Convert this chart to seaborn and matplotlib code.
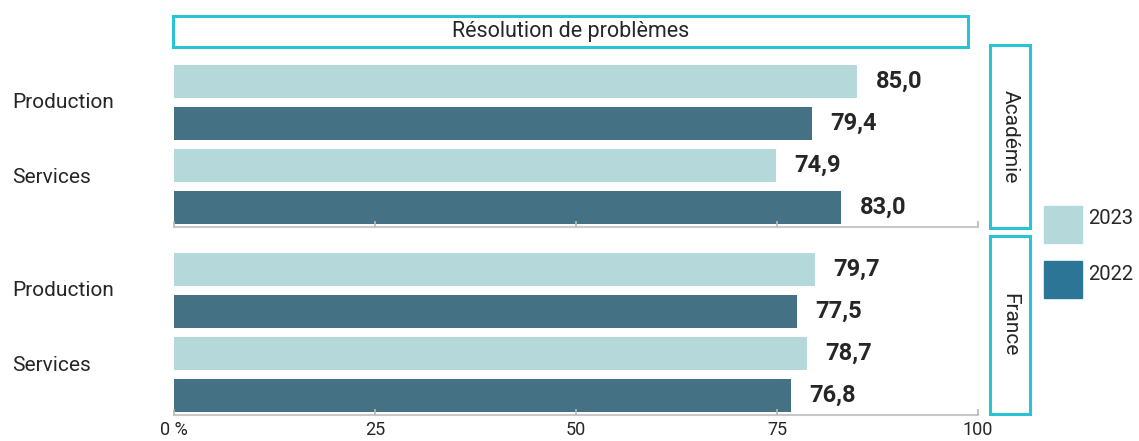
import matplotlib
matplotlib.use('Agg')
import matplotlib.pyplot as plt
import matplotlib.transforms as mtransforms
from matplotlib.patches import Rectangle
import pandas as pd
import seaborn as sns

## Data
sectors = ['Production', 'Services']
years = ['2023', '2022']
panels = ['Académie', 'France']
academie_2023 = [85.0, 74.9]
academie_2022 = [79.4, 83.0]
france_2023 = [79.7, 78.7]
france_2022 = [77.5, 76.8]
x_ticks = [0, 25, 50, 75, 100]
x_tick_labels = ['0 %', '25', '50', '75', '100']
title = 'Résolution de problèmes'

bar_colors = {'2023': '#b5d8db', '2022': '#447183'}
legend_colors = {'2023': '#b5d8db', '2022': '#2d7596'}
strip_color = '#29c3d3'
text_color = '#262626'

rows = []
for panel, v23, v22 in [('Académie', academie_2023, academie_2022),
                        ('France', france_2023, france_2022)]:
    for i, sector in enumerate(sectors):
        rows.append({'panel': panel, 'secteur': sector, 'annee': '2023', 'valeur': v23[i]})
        rows.append({'panel': panel, 'secteur': sector, 'annee': '2022', 'valeur': v22[i]})
df = pd.DataFrame(rows)

sns.set_style('white')
plt.rcParams['font.family'] = ['Roboto', 'DejaVu Sans']

W, H = 1139, 441
fig = plt.figure(figsize=(W / 100, H / 100), dpi=100)

# axes placement in pixels (left, top, right, bottom)
ax_boxes = [(174, 60.5, 978, 227), (174, 248.5, 978, 414.5)]
strip_boxes = [(990, 45, 1030, 228), (990, 236, 1030, 414)]

def fig_rect(l, t, r, b):
    return [l / W, 1 - b / H, (r - l) / W, (b - t) / H]

for k, panel in enumerate(panels):
    ax = fig.add_axes(fig_rect(*ax_boxes[k]))
    sub = df[df['panel'] == panel]
    sns.barplot(data=sub, x='valeur', y='secteur', hue='annee', hue_order=years,
                order=sectors, palette=bar_colors, orient='h', width=1.0, gap=0.214,
                legend=False, ax=ax, saturation=1, linewidth=0)
    ax.set_xlim(0, 100)
    ax.set_ylim(1.48, -0.5)
    ax.set_xlabel('')
    ax.set_ylabel('')
    ax.set_yticks([])
    ax.set_axisbelow(False)
    for s in ['top', 'right', 'left']:
        ax.spines[s].set_visible(False)
    ax.spines['bottom'].set_color('#c8c8c8')
    ax.spines['bottom'].set_linewidth(1.5)
    ax.set_xticks(x_ticks)
    ax.tick_params(axis='x', bottom=True, direction='in', length=4, width=1.2,
                   color='#b8b8b8', labelsize=13, labelcolor=text_color, pad=5)
    if k == 0:
        ax.set_xticklabels([])
    else:
        ax.set_xticklabels(x_tick_labels)

    # value labels
    for cont in ax.containers:
        labels = [f'{b.get_width():.1f}'.replace('.', ',') for b in cont]
        ax.bar_label(cont, labels=labels, padding=13, fontsize=17, fontweight='bold',
                     color=text_color)

    # category labels on the left
    trans = mtransforms.blended_transform_factory(fig.transFigure, ax.transData)
    for i, sector in enumerate(sectors):
        ax.text(12 / W, i - 0.11 * i, sector, transform=trans, ha='left', va='center',
                fontsize=15, color=text_color)

    # facet strip on the right
    l, t, r, b = strip_boxes[k]
    fig.patches.append(Rectangle((l / W, 1 - b / H), (r - l) / W, (b - t) / H,
                                 transform=fig.transFigure, fill=False,
                                 edgecolor=strip_color, linewidth=2.2))
    fig.text((l + r) / 2 / W, 1 - (t + b) / 2 / H, panel, rotation=270, ha='center',
             va='center', fontsize=15, color=text_color)

# title strip
l, t, r, b = 173, 16, 968, 47
fig.patches.append(Rectangle((l / W, 1 - b / H), (r - l) / W, (b - t) / H,
                             transform=fig.transFigure, fill=False,
                             edgecolor=strip_color, linewidth=2.2))
fig.text((l + r) / 2 / W, 1 - (t + b) / 2 / H, title, ha='center', va='center',
         fontsize=15.5, color=text_color)

# legend
legend_pos = [('2023', 206), ('2022', 261)]
for year, top in legend_pos:
    fig.patches.append(Rectangle((1044 / W, 1 - (top + 37) / H), 38 / W, 37 / H,
                                 transform=fig.transFigure, color=legend_colors[year]))
    fig.text(1088 / W, 1 - (top + 13) / H, year, ha='left', va='center',
             fontsize=14.5, color=text_color)

fig.savefig('out.png', dpi=100)
